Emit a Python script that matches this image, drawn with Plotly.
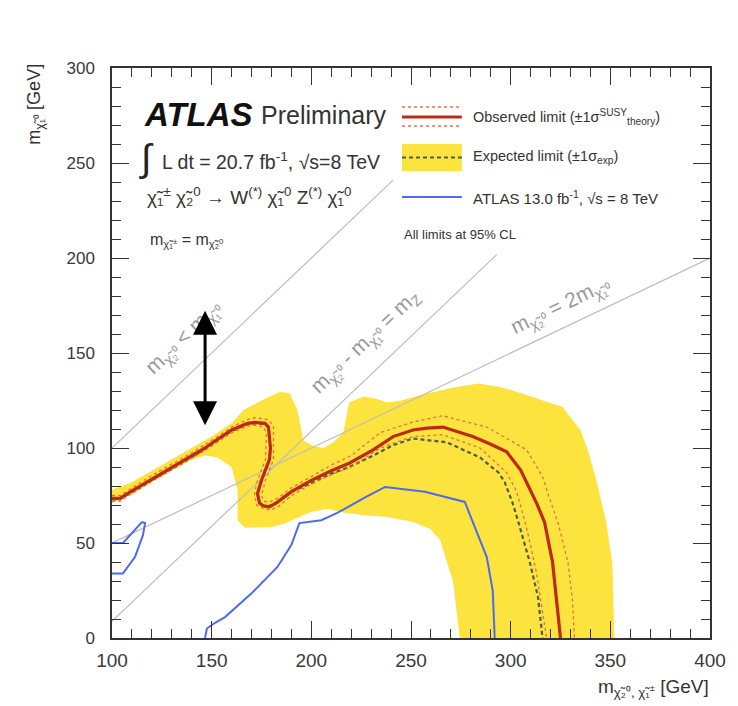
import plotly.graph_objects as go

# ---------------- data ----------------
# Expected +-1 sigma band (yellow): upper edge left->right, lower edge right->left
band_upper_x = [100, 110, 120, 130, 140, 150, 160, 166, 175, 184, 189, 193, 196, 201, 206, 211, 216, 219, 226, 232, 238, 245, 259, 272, 284, 295, 305, 316, 326, 335, 339, 343, 348, 351, 352]
band_upper_y = [78, 82, 88, 94, 100, 106, 113, 120, 125, 129.5, 129, 120, 104, 101, 100, 103, 108, 124, 127, 126, 124, 125, 129, 132, 134, 132, 129, 125, 121.6, 109.5, 98, 83, 60.5, 39.5, 0]
band_lower_x = [274.5, 271, 268, 264.6, 259.5, 251, 238.5, 228, 216, 208, 199, 186, 180, 172, 166.7, 163, 163, 160, 153, 146.7, 140, 130, 120, 110, 106.5, 100]
band_lower_y = [0, 30, 40, 51.6, 57.5, 61, 63.7, 64.5, 66, 68, 66, 60, 58.4, 58, 58, 62, 78, 90, 95, 96, 94, 88, 82, 75.5, 74, 71]

# Observed limit
obs_x = [100, 104, 110, 116.6, 120, 130, 140, 146.7, 150, 160, 168, 172, 176.8, 178.5, 179.5, 179, 175, 173, 174, 176, 179, 183, 190, 200, 210, 219, 231, 241, 251, 258, 266, 281, 290, 298, 305, 310, 313, 317, 321, 323, 325]
obs_y = [73.5, 73.5, 77.5, 81.5, 84, 90, 96, 100, 102.5, 109.5, 113, 113.5, 113, 111, 100, 94, 83, 76, 71, 69.5, 69, 71.5, 77, 83, 88, 92, 99, 106, 109.5, 110.5, 111, 106, 102, 98, 88.4, 78, 71, 61, 40, 20, 0]

# Observed +1 sigma(theory)
obs_up_x = [100, 104, 110, 120, 130, 140, 150, 160, 168, 172, 178, 181, 181, 177, 175, 176, 179, 183, 190, 200, 210, 220, 234.5, 251, 266, 288, 308, 316, 319, 323.8, 328.8, 331, 332]
obs_up_y = [75, 75, 79, 85.5, 91.5, 97.5, 104, 111, 115, 116, 115, 112, 94, 83, 75, 72, 71.5, 73.5, 79, 85, 91, 96, 108, 113.7, 117, 111, 99, 85, 75, 60.5, 39.5, 20, 0]
# Observed -1 sigma(theory)
obs_dn_x = [100, 104, 110, 120, 130, 140, 150, 160, 168, 172, 176, 177.5, 177, 173, 171.5, 172.5, 176, 180, 184, 190, 200, 210, 220, 234.5, 251, 266, 284.6, 298, 303, 308, 313, 316, 318]
obs_dn_y = [72, 72, 76, 82.5, 88.5, 94.5, 101, 108, 111.5, 112, 111, 108, 94, 83, 76, 70, 68, 67.5, 69.5, 75, 81, 86, 90, 100, 106, 107, 100, 87, 77, 58, 34, 15, 0]

# Expected limit
exp_x = [100, 104, 110, 116.6, 120, 130, 140, 146.7, 150, 160, 168, 172, 176.8, 178.5, 179.5, 179, 175, 173, 174, 176, 179, 183, 190, 200, 210, 219, 231, 241, 251, 268, 284.6, 294, 297, 301, 304, 309.7, 313.7, 316]
exp_y = [73, 73, 77, 81, 83.5, 89.5, 95.5, 99.5, 102, 109, 112.5, 113, 112.5, 110.5, 100, 94, 83, 76, 71, 69.5, 69.5, 71.5, 77, 81.5, 86.5, 90, 96, 101.5, 105, 103, 95, 87, 82, 71, 60.5, 39.5, 21.6, 0]

# ATLAS 13.0 fb-1 limit (two pieces)
atl1_x = [100, 105.5, 115, 116.6, 115.5, 111.5, 105.5, 100]
atl1_y = [50, 50, 61, 60.5, 54, 42.6, 34, 34]
atl2_x = [146.7, 147.6, 151.7, 156.7, 170, 183, 190, 194, 205, 213, 227, 237, 257, 277, 288, 291, 292]
atl2_y = [0, 5, 8, 11, 23.5, 37.4, 49, 60.5, 62, 65.8, 74, 79.5, 77, 71.6, 42.6, 25, 0]

# Kinematic reference lines
kin1_x = [100, 241]
kin1_y = [100, 241]
kin2_x = [100, 293]
kin2_y = [8.8, 201.8]
kin3_x = [100, 400]
kin3_y = [50, 200]

x_ticks = [100, 150, 200, 250, 300, 350, 400]
y_ticks = [0, 50, 100, 150, 200, 250, 300]

# ---------------- styling ----------------
YELLOW = "#FCE33D"
RED = "#BE2A10"
DOT = "#E4704A"
BLUE = "#4D6BEE"
DASH = "#4F5A52"
GRAY = "#BDBDBD"
FONT = "Liberation Sans"

fig = go.Figure()

fig.add_trace(go.Scatter(
    x=band_upper_x + band_lower_x, y=band_upper_y + band_lower_y,
    fill="toself", fillcolor=YELLOW, line=dict(width=0), mode="lines",
    hoverinfo="skip", showlegend=False))

for kx, ky in [(kin1_x, kin1_y), (kin2_x, kin2_y), (kin3_x, kin3_y)]:
    fig.add_trace(go.Scatter(x=kx, y=ky, mode="lines",
                             line=dict(color=GRAY, width=1.2), showlegend=False))

fig.add_trace(go.Scatter(x=atl1_x, y=atl1_y, mode="lines",
                         line=dict(color=BLUE, width=2), showlegend=False))
fig.add_trace(go.Scatter(x=atl2_x, y=atl2_y, mode="lines",
                         line=dict(color=BLUE, width=2), showlegend=False))

fig.add_trace(go.Scatter(x=exp_x, y=exp_y, mode="lines",
                         line=dict(color=DASH, width=2.2, dash="4px,3px"), showlegend=False))
fig.add_trace(go.Scatter(x=obs_up_x, y=obs_up_y, mode="lines",
                         line=dict(color=DOT, width=1.3, dash="dot"), showlegend=False))
fig.add_trace(go.Scatter(x=obs_dn_x, y=obs_dn_y, mode="lines",
                         line=dict(color=DOT, width=1.3, dash="dot"), showlegend=False))
fig.add_trace(go.Scatter(x=obs_x, y=obs_y, mode="lines",
                         line=dict(color=RED, width=3.2), showlegend=False))

# ---------------- axes ----------------
axis_common = dict(
    showgrid=False, zeroline=False, showline=True, linecolor="#333333", linewidth=1.5,
    mirror="allticks", ticks="inside", ticklen=17, tickwidth=1.2, tickcolor="#333333",
    minor=dict(ticks="inside", ticklen=9, tickwidth=1, tickcolor="#333333", dtick=10),
)
fig.update_xaxes(range=[100, 400], tickvals=x_ticks, ticklabelstandoff=4,
                 tickfont=dict(family=FONT, size=19, color="#3a3a3a"), **axis_common)
fig.update_yaxes(range=[0, 300], tickvals=y_ticks, ticklabelstandoff=12,
                 tickfont=dict(family=FONT, size=17, color="#3a3a3a"), **axis_common)

ann = []
def txt(x, y, t, size=15, xanchor="left", yanchor="middle", color="#333333", angle=0, xref="paper", yref="paper"):
    ann.append(dict(x=x, y=y, xref=xref, yref=yref, text=t, showarrow=False,
                    xanchor=xanchor, yanchor=yanchor, textangle=angle,
                    font=dict(family=FONT, size=size, color=color)))

def px2p(px, py):
    return (px - 112) / 600.0, (638 - py) / 570.0

# Axis titles
xp, yp = px2p(713, 688)
txt(xp, yp, "m<sub>χ̃₂⁰, χ̃₁<sup>±</sup></sub> [GeV]", size=19, xanchor="right")
xp, yp = px2p(35, 62)
txt(xp, yp, "m<sub>χ̃₁⁰</sub> [GeV]", size=18, xanchor="center", yanchor="top", angle=-90)

# Top-left text block
xp, yp = px2p(142, 114)
txt(xp, yp, "<b><i>ATLAS</i></b>", size=33, color="#111111")
xp, yp = px2p(259, 115)
txt(xp, yp, "Preliminary", size=25, color="#333333")
xp, yp = px2p(137, 158)
txt(xp, yp, "∫", size=38, color="#222222")
xp, yp = px2p(160, 161)
txt(xp, yp, "L dt = 20.7 fb<sup>-1</sup>, √s=8 TeV", size=19.5)
xp, yp = px2p(145, 196)
txt(xp, yp, "χ̃₁<sup>±</sup> χ̃₂<sup>0</sup> → W<sup>(*)</sup> χ̃₁<sup>0</sup> Z<sup>(*)</sup> χ̃₁<sup>0</sup>", size=19)
xp, yp = px2p(148, 240)
txt(xp, yp, "m<sub>χ̃₁<sup>±</sup></sub> = m<sub>χ̃₂<sup>0</sup></sub>", size=16)

# Kinematic line labels
txt(136, 158, "m<sub>χ̃₂⁰</sub> < m<sub>χ̃₁⁰</sub>", size=21, xanchor="center", color="#9a9a9a", angle=-43.6, xref="x", yref="y")
txt(227, 156, "m<sub>χ̃₂⁰</sub> - m<sub>χ̃₁⁰</sub> = m<sub>Z</sub>", size=21, xanchor="center", color="#9a9a9a", angle=-43.6, xref="x", yref="y")
txt(325, 175, "m<sub>χ̃₂⁰</sub> = 2m<sub>χ̃₁⁰</sub>", size=21, xanchor="center", color="#9a9a9a", angle=-25.5, xref="x", yref="y")

# Legend text
xp, yp = px2p(472, 117)
txt(xp, yp, "Observed limit (±1σ<sup>SUSY</sup><sub>theory</sub>)", size=14.5)
xp, yp = px2p(472, 157)
txt(xp, yp, "Expected limit (±1σ<sub>exp</sub>)", size=14.5)
xp, yp = px2p(472, 197)
txt(xp, yp, "ATLAS 13.0 fb<sup>-1</sup>, √s = 8 TeV", size=15)
xp, yp = px2p(403, 234)
txt(xp, yp, "All limits at 95% CL", size=13)

# Double arrow
ann.append(dict(x=146.7, y=112, ax=146.7, ay=173, xref="x", yref="y", axref="x", ayref="y",
                text="", showarrow=True, arrowhead=2, startarrowhead=2, arrowside="end+start",
                arrowsize=1.6, startarrowsize=1.6, arrowwidth=3, arrowcolor="#000000"))

# Legend swatches
shapes = []
x0, _ = px2p(403, 0)
x1, _ = px2p(463, 0)
_, yb0 = px2p(0, 171)
_, yb1 = px2p(0, 144)
shapes.append(dict(type="rect", xref="paper", yref="paper", x0=x0, x1=x1, y0=yb0, y1=yb1,
                   fillcolor=YELLOW, line=dict(width=0)))
for py, col, w, d in [(107, DOT, 1.3, "dot"), (126, DOT, 1.3, "dot"), (117, RED, 3.2, "solid"),
                      (157.5, DASH, 2.2, "4px,3px"), (197, BLUE, 2, "solid")]:
    _, yy = px2p(0, py)
    shapes.append(dict(type="line", xref="paper", yref="paper", x0=x0, x1=x1, y0=yy, y1=yy,
                       line=dict(color=col, width=w, dash=d)))

fig.update_layout(
    width=738, height=706,
    margin=dict(l=112, r=26, t=68, b=68),
    paper_bgcolor="white", plot_bgcolor="white",
    showlegend=False,
    annotations=ann, shapes=shapes,
)

fig.write_html("out.html")
